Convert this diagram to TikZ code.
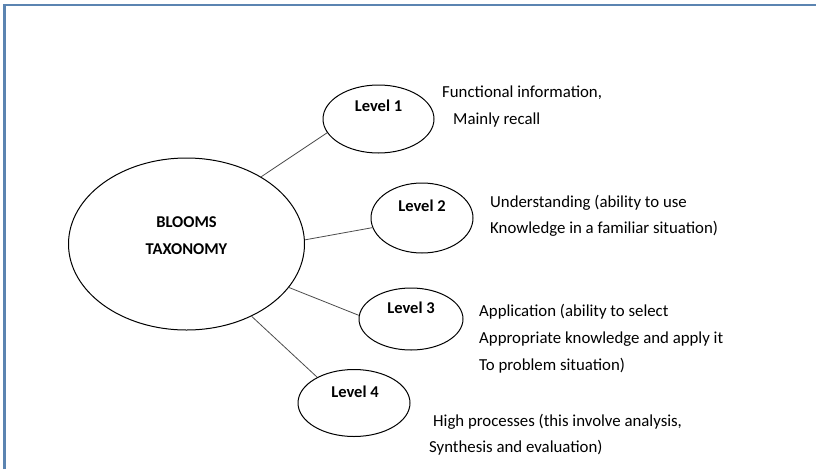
\documentclass[tikz,border=0pt]{standalone}
\usepackage{fontspec}
\setmainfont{Carlito}
\usetikzlibrary{shapes.geometric}
\definecolor{framecol}{HTML}{5B84B1}
\begin{document}
\begin{tikzpicture}[x=1pt, y=-1pt,
  bubble/.style={draw=black, ellipse, line width=1pt, inner sep=0pt},
  link/.style={draw=black!70, line width=.8pt},
  tag/.style={font={\fontsize{16.5}{19}\selectfont\bfseries}, anchor=base, inner sep=0pt},
  note/.style={font={\fontsize{16.8}{19}\selectfont}, anchor=base west, inner sep=0pt}]
\useasboundingbox (0,0) rectangle (816,469);
\draw[framecol, line width=2.2pt] (4.5,469) -- (4.5,5) -- (816,5);
% bubbles
\node[bubble, minimum width=236, minimum height=172] (bloom) at (186.5,244) {};
\node[bubble, minimum width=111, minimum height=68] (lvl1) at (378.5,119) {};
\node[bubble, minimum width=102, minimum height=70] (lvl2) at (422,218) {};
\node[bubble, minimum width=104, minimum height=62] (lvl3) at (411,319) {};
\node[bubble, minimum width=112, minimum height=67] (lvl4) at (354,403) {};
% labels
\node[tag] (bloomA) at (186.5,227) {BLOOMS};
\node[tag] (bloomB) at (186.5,254) {TAXONOMY};
\node[tag] (tag1) at (378.5,111) {Level 1};
\node[tag] (tag2) at (422,211) {Level 2};
\node[tag] (tag3) at (411,313) {Level 3};
\node[tag] (tag4) at (355,397) {Level 4};
% descriptions
\node[note] (note1a) at (442,97) {Functional information,};
\node[note] (note1b) at (453,124) {Mainly recall};
\node[note] (note2a) at (490,207) {Understanding (ability to use};
\node[note] (note2b) at (490,233) {Knowledge in a familiar situation)};
\node[note] (note3a) at (479,316) {Application (ability to select};
\node[note] (note3b) at (479,343) {Appropriate knowledge and apply it};
\node[note] (note3c) at (479,370) {To problem situation)};
\node[note] (note4a) at (433,426) {High processes (this involve analysis,};
\node[note] (note4b) at (429,452) {Synthesis and evaluation)};
% links
\path[link] (bloom.42) -- (lvl1.195);
\path[link] (bloom.2.5) -- (lvl2.191);
\path[link] (bloom.-23) -- (lvl3.176);
\path[link] (bloom.-48) -- (lvl4.145);
\end{tikzpicture}
\end{document}
